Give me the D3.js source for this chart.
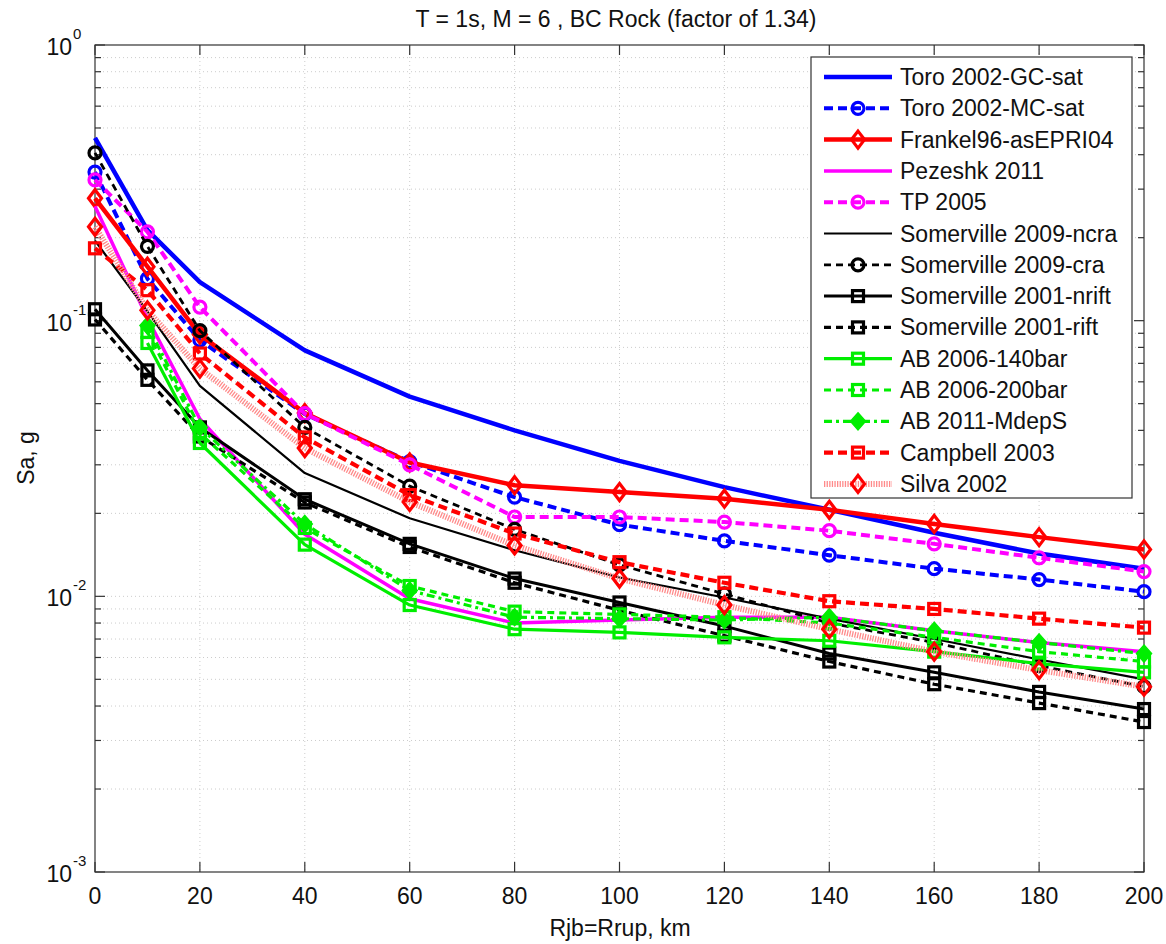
<!DOCTYPE html>
<html>
<head>
<meta charset="utf-8">
<script src="https://cdn.jsdelivr.net/npm/d3@7"></script>
<style>
  html, body { margin: 0; padding: 0; background: #fff; }
  svg { display: block; }
  text { font-family: "Liberation Sans", Arial, Helvetica, sans-serif; fill: #111; }
</style>
</head>
<body>
<svg id="chart" width="1166" height="944"></svg>
<script>
// Distances (km) at which each model is evaluated
const distances = [0, 10, 20, 40, 60, 80, 100, 120, 140, 160, 180, 200];

// Spectral acceleration Sa (g) per model
const toroGC      = [0.46, 0.213, 0.138, 0.078, 0.053, 0.040, 0.031, 0.0249, 0.0206, 0.0170, 0.0143, 0.0126];
const toroMC      = [0.346, 0.142, 0.085, 0.0458, 0.0308, 0.0229, 0.0182, 0.0159, 0.0141, 0.0126, 0.0115, 0.0104];
const frankel     = [0.278, 0.157, 0.089, 0.0462, 0.0306, 0.0253, 0.0239, 0.0226, 0.0206, 0.0183, 0.0164, 0.0148];
const pezeshk     = [0.26, 0.102, 0.044, 0.0168, 0.0098, 0.0080, 0.0082, 0.0084, 0.0084, 0.0075, 0.0068, 0.0063];
const tp2005      = [0.324, 0.21, 0.112, 0.046, 0.030, 0.0194, 0.0194, 0.0186, 0.0173, 0.0155, 0.0138, 0.0123];
const som09ncra   = [0.195, 0.108, 0.058, 0.028, 0.0192, 0.0147, 0.0117, 0.0099, 0.0083, 0.0070, 0.0059, 0.0050];
const som09cra    = [0.406, 0.186, 0.092, 0.041, 0.0251, 0.0175, 0.0130, 0.0102, 0.0080, 0.0068, 0.0056, 0.0047];
const som01nrift  = [0.11, 0.066, 0.041, 0.0225, 0.0155, 0.0116, 0.0095, 0.0078, 0.0062, 0.0053, 0.0045, 0.0039];
const som01rift   = [0.101, 0.061, 0.038, 0.0219, 0.0151, 0.0112, 0.0089, 0.0072, 0.0058, 0.0048, 0.0041, 0.0035];
const ab06_140    = [null, 0.083, 0.036, 0.0154, 0.0093, 0.0076, 0.0074, 0.0071, 0.0069, 0.0063, 0.0057, 0.0053];
const ab06_200    = [null, 0.091, 0.039, 0.0177, 0.0109, 0.0088, 0.0086, 0.0084, 0.0080, 0.0071, 0.0063, 0.0058];
const ab11        = [null, 0.096, 0.041, 0.0183, 0.0105, 0.0084, 0.0083, 0.0082, 0.0084, 0.0075, 0.0068, 0.0062];
const campbell    = [0.183, 0.129, 0.076, 0.0377, 0.0233, 0.0169, 0.0133, 0.0112, 0.0096, 0.0090, 0.0083, 0.0077];
const silva       = [0.219, 0.109, 0.067, 0.0345, 0.022, 0.0153, 0.0116, 0.0093, 0.0076, 0.0063, 0.0054, 0.0047];

const seriesNames = [
  "Toro 2002-GC-sat", "Toro 2002-MC-sat", "Frankel96-asEPRI04", "Pezeshk 2011", "TP 2005",
  "Somerville 2009-ncra", "Somerville 2009-cra", "Somerville 2001-nrift", "Somerville 2001-rift",
  "AB 2006-140bar", "AB 2006-200bar", "AB 2011-MdepS", "Campbell 2003", "Silva 2002"
];
const seriesValues = [toroGC, toroMC, frankel, pezeshk, tp2005, som09ncra, som09cra,
  som01nrift, som01rift, ab06_140, ab06_200, ab11, campbell, silva];

const xTicks = [0, 20, 40, 60, 80, 100, 120, 140, 160, 180, 200];
const yDecades = [-3, -2, -1, 0];

const titleText = "T = 1s, M = 6 , BC Rock (factor of 1.34)";
const xLabelText = "Rjb=Rrup, km";
const yLabelText = "Sa, g";

// Line / marker styling for each model
const styles = [
  { color: "#0000ff", width: 4.5, dash: null, marker: null },
  { color: "#0000ff", width: 4, dash: "9,5", marker: "circle" },
  { color: "#ff0000", width: 4.5, dash: null, marker: "diamond" },
  { color: "#ff00ff", width: 3.5, dash: null, marker: null },
  { color: "#ff00ff", width: 4, dash: "9,5", marker: "circle" },
  { color: "#000000", width: 2.2, dash: null, marker: null },
  { color: "#000000", width: 2.8, dash: "7,5", marker: "circle" },
  { color: "#000000", width: 3, dash: null, marker: "square" },
  { color: "#000000", width: 3.2, dash: "7,5", marker: "square" },
  { color: "#00ee00", width: 3.2, dash: null, marker: "square" },
  { color: "#00ee00", width: 3.2, dash: "7,5", marker: "square" },
  { color: "#00ee00", width: 3.2, dash: "8,4,3,4", marker: "filled" },
  { color: "#ff0000", width: 4.2, dash: "9,5", marker: "square" },
  { color: "#ff8a8a", width: 6, dash: "1.3,1.3", marker: "diamond", markerColor: "#ff0000" }
];

const svg = d3.select("#chart");
const plotL = 95, plotR = 1144, plotT = 45, plotB = 872;

const x = d3.scaleLinear().domain([0, 200]).range([plotL, plotR]);
const y = d3.scaleLog().domain([1e-3, 1]).range([plotB, plotT]);

// Grid (dotted, light)
const grid = svg.append("g");
xTicks.slice(1, -1).forEach(t => {
  grid.append("line").attr("x1", x(t)).attr("x2", x(t)).attr("y1", plotT).attr("y2", plotB)
    .attr("stroke", "#cccccc").attr("stroke-width", 1).attr("stroke-dasharray", "1,3");
});
const minorVals = [];
yDecades.slice(0, -1).forEach(d => {
  for (let m = 1; m <= 9; m++) minorVals.push(m * Math.pow(10, d));
});
minorVals.forEach(v => {
  if (v <= 1e-3) return;
  grid.append("line").attr("x1", plotL).attr("x2", plotR).attr("y1", y(v)).attr("y2", y(v))
    .attr("stroke", "#cccccc").attr("stroke-width", 1).attr("stroke-dasharray", "1,3");
});

// Axes box
svg.append("rect").attr("x", plotL).attr("y", plotT).attr("width", plotR - plotL).attr("height", plotB - plotT)
  .attr("fill", "none").attr("stroke", "#333").attr("stroke-width", 1.2);

// Ticks on all four sides
const ticks = svg.append("g").attr("stroke", "#333").attr("stroke-width", 1.2);
xTicks.forEach(t => {
  ticks.append("line").attr("x1", x(t)).attr("x2", x(t)).attr("y1", plotB).attr("y2", plotB - 10);
  ticks.append("line").attr("x1", x(t)).attr("x2", x(t)).attr("y1", plotT).attr("y2", plotT + 10);
});
minorVals.concat([1]).forEach(v => {
  const major = Math.abs(Math.log10(v) - Math.round(Math.log10(v))) < 1e-9;
  const len = major ? 10 : 6;
  ticks.append("line").attr("x1", plotL).attr("x2", plotL + len).attr("y1", y(v)).attr("y2", y(v));
  ticks.append("line").attr("x1", plotR).attr("x2", plotR - len).attr("y1", y(v)).attr("y2", y(v));
});

// Tick labels
const fs = 23;
xTicks.forEach(t => {
  svg.append("text").attr("x", x(t)).attr("y", 904).attr("text-anchor", "middle")
    .attr("font-size", fs).text(t);
});
yDecades.forEach(d => {
  svg.append("text").attr("x", 72).attr("y", y(Math.pow(10, d)) + 10)
    .attr("text-anchor", "end").attr("font-size", fs).text("10");
  svg.append("text").attr("x", 73).attr("y", y(Math.pow(10, d)) - 6)
    .attr("font-size", 15).text(d === 0 ? "0" : String(d));
});

// Title and axis labels
svg.append("text").attr("x", 616).attr("y", 27).attr("text-anchor", "middle")
  .attr("font-size", fs).text(titleText);
svg.append("text").attr("x", 620).attr("y", 936).attr("text-anchor", "middle")
  .attr("font-size", fs).text(xLabelText);
svg.append("text").attr("transform", "translate(34,458) rotate(-90)").attr("text-anchor", "middle")
  .attr("font-size", fs).text(yLabelText);

// Marker drawing
function drawMarker(g, type, cx, cy, color) {
  if (type === "circle") {
    g.append("circle").attr("cx", cx).attr("cy", cy).attr("r", 6)
      .attr("fill", "none").attr("stroke", color).attr("stroke-width", 3.2);
  } else if (type === "diamond") {
    g.append("path").attr("d", `M${cx},${cy - 8.5}L${cx + 6.5},${cy}L${cx},${cy + 8.5}L${cx - 6.5},${cy}Z`)
      .attr("fill", "none").attr("stroke", color).attr("stroke-width", 3.2);
  } else if (type === "square") {
    g.append("rect").attr("x", cx - 5.5).attr("y", cy - 5.5).attr("width", 11).attr("height", 11)
      .attr("fill", "none").attr("stroke", color).attr("stroke-width", 3.2);
  } else if (type === "filled") {
    g.append("path").attr("d", `M${cx},${cy - 8.5}L${cx + 7.5},${cy}L${cx},${cy + 8.5}L${cx - 7.5},${cy}Z`)
      .attr("fill", color).attr("stroke", color).attr("stroke-width", 1.5);
  }
}

const plot = svg.append("g");
const line = d3.line().defined(d => d[1] != null).x(d => x(d[0])).y(d => y(d[1]));

seriesValues.forEach((vals, i) => {
  const st = styles[i];
  const pts = distances.map((dist, k) => [dist, vals[k]]);
  const g = plot.append("g");
  g.append("path").attr("d", line(pts)).attr("fill", "none")
    .attr("stroke", st.color).attr("stroke-width", st.width)
    .attr("stroke-dasharray", st.dash).attr("stroke-linejoin", "round");
  if (st.marker) {
    const mc = st.markerColor || st.color;
    pts.filter(p => p[1] != null).forEach(p => drawMarker(g, st.marker, x(p[0]), y(p[1]), mc));
  }
});

// Legend
const lg = svg.append("g");
lg.append("rect").attr("x", 811).attr("y", 57).attr("width", 321).attr("height", 441)
  .attr("fill", "#fff").attr("stroke", "#333").attr("stroke-width", 1.2);
seriesNames.forEach((name, i) => {
  const st = styles[i];
  const ry = 77 + i * 31.3;
  lg.append("line").attr("x1", 824).attr("x2", 892).attr("y1", ry).attr("y2", ry)
    .attr("stroke", st.color).attr("stroke-width", st.width).attr("stroke-dasharray", st.dash);
  if (st.marker) drawMarker(lg, st.marker, 858, ry, st.markerColor || st.color);
  lg.append("text").attr("x", 900).attr("y", ry + 8).attr("font-size", fs).text(name);
});
</script>
</body>
</html>
